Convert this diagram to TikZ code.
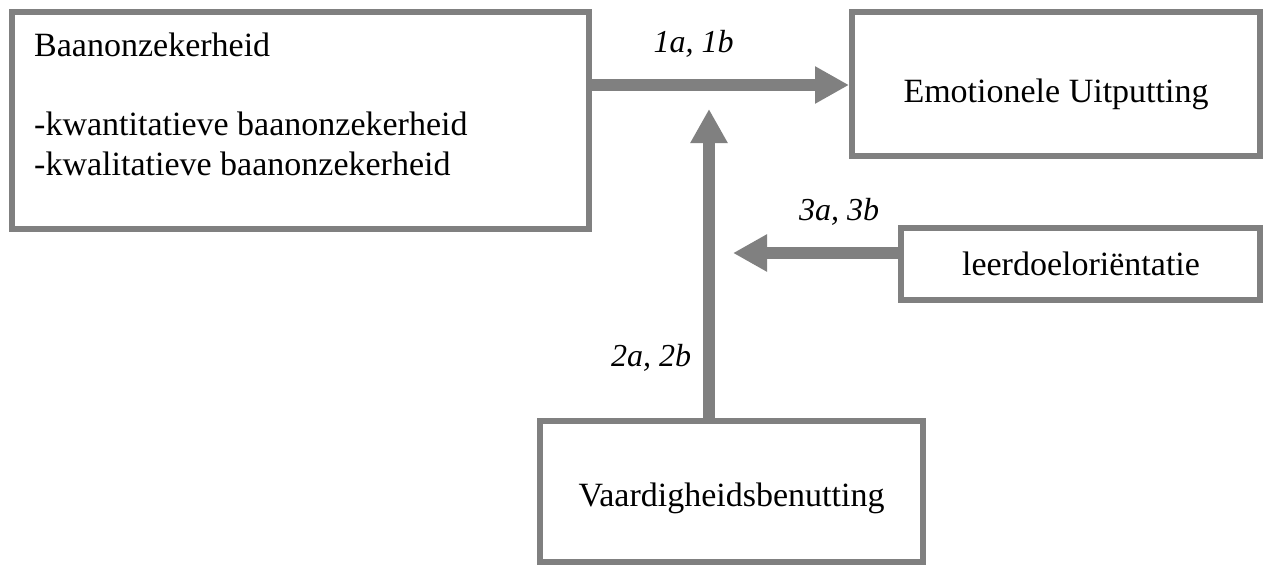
\documentclass[tikz,border=0pt]{standalone}
\usepackage{fontspec}
\setmainfont{Liberation Serif}
\usetikzlibrary{arrows.meta}
\definecolor{boxgray}{HTML}{808080}
\tikzset{
  box/.style={draw=boxgray, line width=6pt, fill=white, inner sep=0pt, rectangle},
  txt/.style={inner sep=0pt, anchor=base, font=\fontsize{34}{40}\selectfont},
  txtl/.style={inner sep=0pt, anchor=base west, font=\fontsize{34}{40}\selectfont},
  lbl/.style={inner sep=0pt, anchor=base, font=\fontsize{32}{38}\selectfont\itshape},
  conn/.style={draw=boxgray, line width=12pt, -{Triangle[length=34pt,width=35pt]}}
}
\begin{document}
\begin{tikzpicture}[x=1pt,y=-1pt]
\useasboundingbox[fill=white] (0,0) rectangle (1263,565);
% boxes
\node[box, minimum width=577pt, minimum height=217pt] (b1) at (300.5,120.5) {};
\node[box, minimum width=408pt, minimum height=144pt] (b2) at (1056,84) {};
\node[box, minimum width=359pt, minimum height=72pt] (b3) at (1080.5,264) {};
\node[box, minimum width=383pt, minimum height=141pt] (b4) at (731.5,491.5) {};
% texts
\node[txtl] (t1a) at (34,56) {Baanonzekerheid};
\node[txtl] (t1b) at (34,135) {-kwantitatieve baanonzekerheid};
\node[txtl] (t1c) at (34,175) {-kwalitatieve baanonzekerheid};
\node[txt] (t2) at (1056,102) {Emotionele Uitputting};
\node[txt] (t3) at (1081,275) {leerdoeloriëntatie};
\node[txt] (t4) at (731.5,506) {Vaardigheidsbenutting};
% connectors
\coordinate (tip2) at (709,109);
\coordinate (tip3) at (733,253);
\coordinate (y1) at (0,85);
\draw[conn] (b1.east |- y1) -- (b2.west |- y1);
\draw[conn] (tip2 |- b4.north) -- (tip2);
\draw[conn] (b3.west |- tip3) -- (tip3);
% labels
\node[lbl] (l1) at (693.5,52) {1a, 1b};
\node[lbl] (l2) at (651,366) {2a, 2b};
\node[lbl] (l3) at (839,220) {3a, 3b};
\end{tikzpicture}
\end{document}
